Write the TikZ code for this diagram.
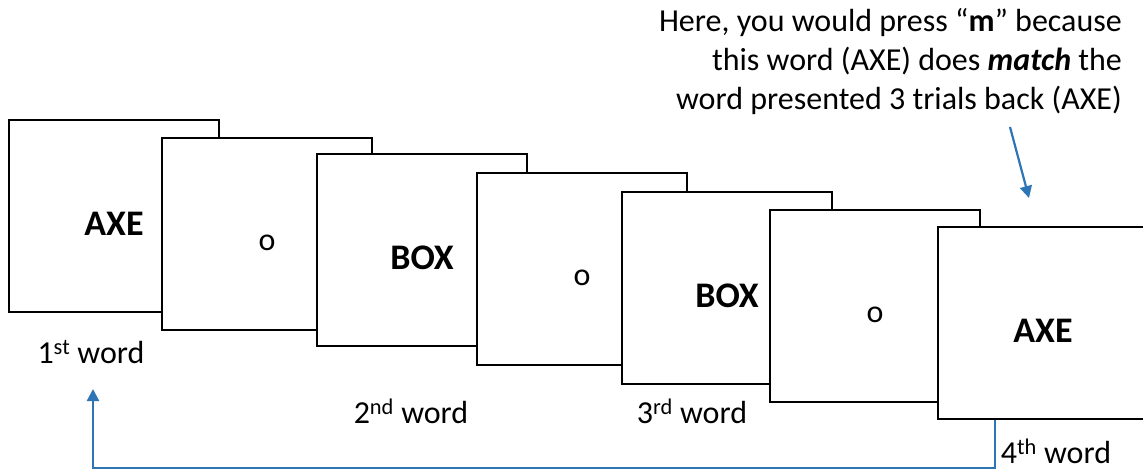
\documentclass[tikz,border=0pt]{standalone}
\usepackage{fontspec}
\setmainfont{Carlito}
\usetikzlibrary{arrows.meta}
\definecolor{ArrowBlue}{HTML}{2E75B6}
\newcommand{\fsize}[1]{\fontsize{#1}{1.22\dimexpr#1pt\relax}\selectfont}

\begin{document}
\begin{tikzpicture}[x=1pt,y=-1pt,
  card/.style={draw=black,fill=white,line width=2.8pt,minimum width=210pt,minimum height=192pt,inner sep=0pt},
  word/.style={font=\fsize{36}\bfseries,text height=39pt,text depth=0pt},
  blank/.style={font=\fsize{32},text height=34pt,text depth=0pt},
  label/.style={font=\fsize{32},inner sep=0pt},
  flow/.style={-{Triangle[length=12pt,width=12pt]},line width=2.2pt,ArrowBlue}
]
\useasboundingbox (0,0) rectangle (1143,470);

% the seven cards, each one in front of the one before
\node[card,word]  (card1) at (114,216) {AXE};
\node[card,blank] (card2) at (267,234) {o};
\node[card,word]  (card3) at (422,250) {BOX};
\node[card,blank] (card4) at (582,269) {o};
\node[card,word]  (card5) at (727,288) {BOX};
\node[card,blank] (card6) at (875,306) {o};
\node[card,word]  (card7) at (1043,323) {AXE};

% trial labels
\node[label] (lbl1) at (91,352)   {1\textsuperscript{st} word};
\node[label] (lbl2) at (411,411)  {2\textsuperscript{nd} word};
\node[label] (lbl3) at (692,411)  {3\textsuperscript{rd} word};
\node[label] (lbl4) at (1056,451) {4\textsuperscript{th} word};

% note about the match
\node[font=\fsize{32},align=right,anchor=north east,inner sep=0pt] (note) at (1122,8)
  {Here, you would press \textquotedblleft\textbf{m}\textquotedblright{} because\\
   this word (AXE) does \textbf{\textit{match}} the\\
   word presented 3 trials back (AXE)};
\coordinate (noteend) at (1010,127);
\coordinate (notetip) at (1029,198);
\draw[flow] (noteend) -- (notetip);

% link back to the first word
\coordinate (backturn) at (995,468);
\coordinate (backtip) at (93,389);
\draw[flow] (card7.south -| backturn) -- (backturn) -| (backtip);
\end{tikzpicture}
\end{document}
